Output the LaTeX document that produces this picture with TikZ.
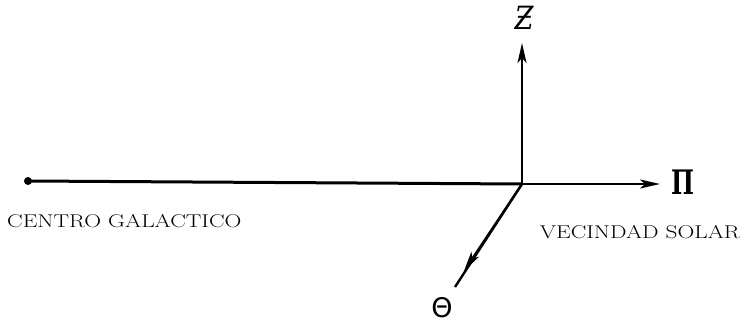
\documentclass[tikz,border=0pt]{standalone}
\usepackage{fontspec}
\usetikzlibrary{arrows.meta}
\newfontfamily\dvserif{DejaVu Serif}
\newfontfamily\dvsans{DejaVu Sans}
\begin{document}
\begin{tikzpicture}[x=1pt,y=-1pt,
  axis/.style={line width=2.2pt, -{Stealth[length=20pt,width=9pt,inset=5pt]}},
  lbl/.style={font=\fontsize{18.5}{18.5}\selectfont, inner sep=0pt},
  sym/.style={inner sep=0pt}]
\useasboundingbox (0,0) rectangle (744,324);
\coordinate (O) at (522,184);
\node[circle, fill, inner sep=0pt, minimum size=8pt] (C) at (28,181) {};
\coordinate (P) at (660,184);
\coordinate (Zt) at (522,43);
\coordinate (Tm) at (464,271);
\coordinate (Te) at (455,287);
\draw[line width=3pt] (C.center) -- (O);
\draw[axis] (O) -- (P);
\draw[axis] (O) -- (Zt);
\draw[line width=2.4pt] (O) -- (Te);
\draw[axis] (O) -- (Tm);
\node[sym, font={\fontsize{27}{27}\selectfont\dvserif\bfseries}] (Pi) at (683,182) {\scalebox{0.9}[1.25]{Π}};
\node[sym, font={\fontsize{32}{32}\selectfont\dvserif\itshape}] (Z) at (524,18) {\scalebox{0.85}[1]{Ƶ}};
\node[sym, font={\fontsize{27}{27}\selectfont\dvsans}] (Th) at (442,308) {Θ};
\node[lbl, anchor=base west] (CG) at (7,227) {\scalebox{1.26}[1]{CENTRO GALACTICO}};
\node[lbl, anchor=base east] (VS) at (740,238) {\scalebox{1.26}[1]{VECINDAD SOLAR}};
\end{tikzpicture}
\end{document}
